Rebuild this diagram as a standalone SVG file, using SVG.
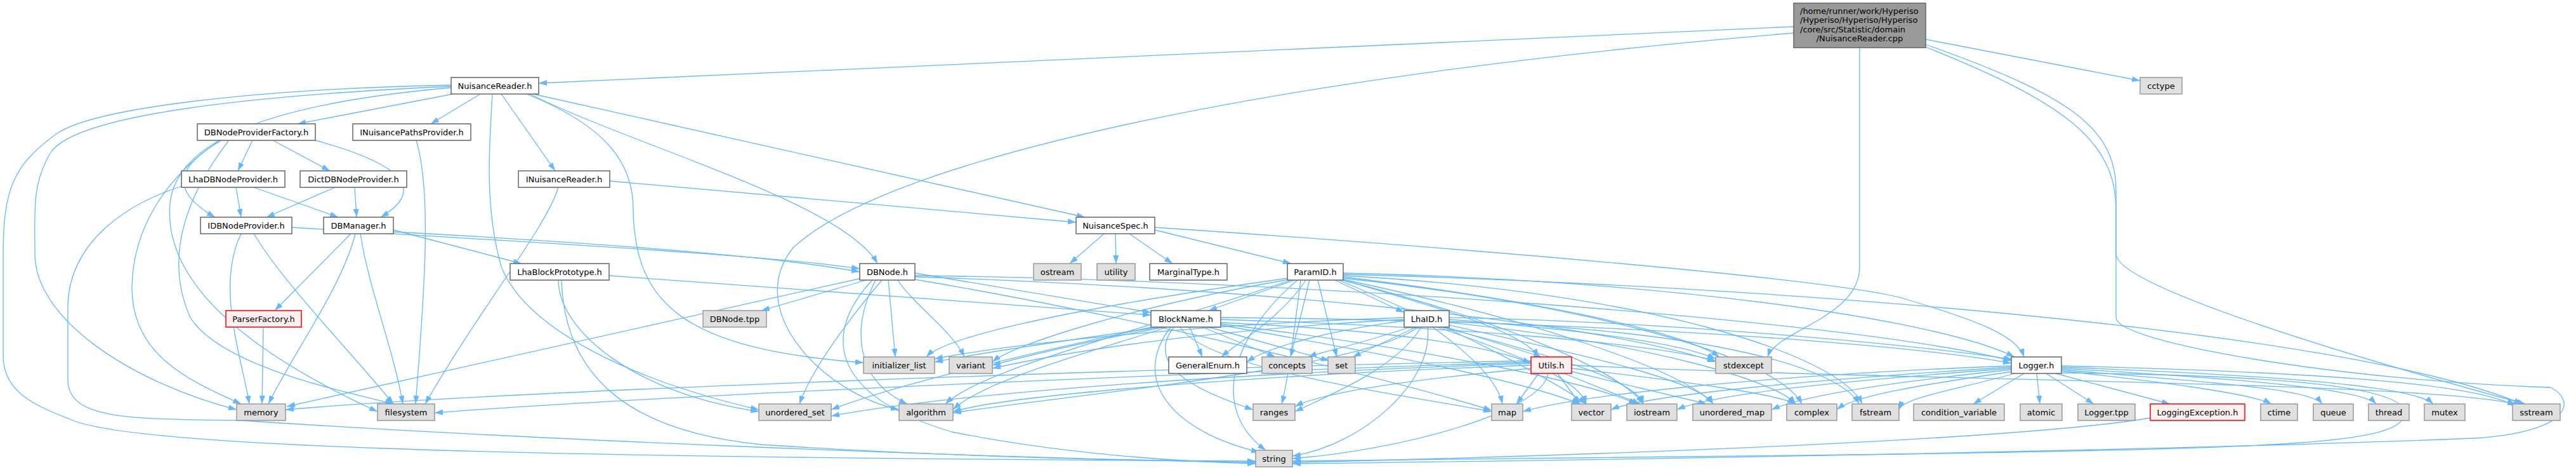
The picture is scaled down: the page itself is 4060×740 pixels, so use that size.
<svg xmlns="http://www.w3.org/2000/svg" width="4060" height="740" viewBox="0 0 4060 740">
<style>
.e{fill:none;stroke:#63B8FF;stroke-width:1.3;marker-end:url(#a)}
.w{fill:#FFFFFF;stroke:#666666;stroke-width:1.5}
.g{fill:#E0E0E0;stroke:#999999;stroke-width:1.5}
.r{fill:#FFF0F0;stroke:#FF0000;stroke-width:1.5}
.c{fill:#999999;stroke:#666666;stroke-width:1.5}
text{font-family:"DejaVu Sans","Liberation Sans",sans-serif;font-size:13px;fill:#000000;text-anchor:middle}
text.l{text-anchor:start}
</style>
<defs>
<marker id="a" viewBox="0 0 13 9" refX="13" refY="4.5" markerWidth="13" markerHeight="9" markerUnits="userSpaceOnUse" orient="auto"><path d="M0,0 L13,4.5 L0,9 z" fill="#63B8FF"/></marker>
</defs>
<rect width="4060" height="740" fill="#FFFFFF"/>
<g id="edges">
<path class="e" d="M2827,42 L849,131"/>
<path class="e" d="M3035,62 L3373,127"/>
<path class="e" d="M2931,75 L2931,420 C2931,500 2800,520 2786,562"/>
<path class="e" d="M3035,70 C3260,150 3335,200 3335,300 L3335,400 C3335,450 3700,560 3980,636"/>
<path class="e" d="M3035,74 C3250,160 3335,220 3335,330 L3335,500 C3335,540 3700,600 4020,610 C4060,630 4055,680 3900,690 C3400,710 2500,725 2037,730"/>
<path class="e" d="M2827,52 C2000,120 1400,250 1250,390 C1170,490 1300,620 1417,645"/>
<path class="e" d="M714,148 L469,195"/>
<path class="e" d="M757,148 L679,195"/>
<path class="e" d="M790,148 L875,269"/>
<path class="e" d="M840,148 L1710,342"/>
<path class="e" d="M835,148 C1000,230 1330,320 1383,415"/>
<path class="e" d="M830,148 C960,200 998,260 998,330 C1000,480 1080,550 1361,571"/>
<path class="e" d="M711,136 C400,150 120,180 80,240 C50,290 55,330 55,400 C55,500 200,600 373,645"/>
<path class="e" d="M711,134 C400,140 150,170 90,210 C20,260 5,300 5,400 L5,560 C5,620 60,640 110,660 C200,700 700,720 1979,726"/>
<path class="e" d="M711,138 C460,160 280,210 268,320 C258,430 360,540 595,648"/>
<path class="e" d="M776,148 C770,250 765,330 790,420 C830,520 1000,600 1196,645"/>
<path class="e" d="M398,221 L375,269"/>
<path class="e" d="M430,221 L520,269"/>
<path class="e" d="M348,222 C280,260 265,300 339,342"/>
<path class="e" d="M497,221 C640,260 670,300 600,342"/>
<path class="e" d="M345,222 C260,280 210,360 208,450 C206,560 300,600 380,636"/>
<path class="e" d="M360,222 C300,300 255,400 300,500 C350,580 560,620 620,636"/>
<path class="e" d="M656,221 C680,300 670,450 655,636"/>
<path class="e" d="M372,295 L380,342"/>
<path class="e" d="M400,295 L533,342"/>
<path class="e" d="M290,292 C200,320 110,380 107,480 L107,600 C110,660 200,660 380,662 C800,690 1500,720 1979,728"/>
<path class="e" d="M528,295 L420,342"/>
<path class="e" d="M559,295 L562,342"/>
<path class="e" d="M961,285 L1696,350"/>
<path class="e" d="M880,295 C860,360 760,480 670,636"/>
<path class="e" d="M460,358 C800,380 1200,400 1355,423"/>
<path class="e" d="M380,368 C340,450 380,560 393,636"/>
<path class="e" d="M400,368 C450,450 550,550 620,636"/>
<path class="e" d="M620,362 L822,415"/>
<path class="e" d="M553,368 L433,489"/>
<path class="e" d="M620,365 C900,380 1200,400 1355,428"/>
<path class="e" d="M560,368 C540,450 460,560 423,636"/>
<path class="e" d="M568,368 C580,450 620,550 635,636"/>
<path class="e" d="M960,434 L1814,496"/>
<path class="e" d="M880,441 C880,520 1000,620 1196,648"/>
<path class="e" d="M885,441 C890,600 1000,680 1200,700 C1500,720 1800,725 1979,728"/>
<path class="e" d="M415,515 L413,636"/>
<path class="e" d="M1365,441 L1200,489"/>
<path class="e" d="M1442,430 L1814,492"/>
<path class="e" d="M1358,438 L452,640"/>
<path class="e" d="M1400,441 L1411,562"/>
<path class="e" d="M1415,441 C1440,480 1500,520 1520,562"/>
<path class="e" d="M1390,441 C1340,500 1280,580 1260,636"/>
<path class="e" d="M1375,441 C1300,520 1300,620 1500,680 C1700,720 1900,728 1979,730"/>
<path class="e" d="M1380,441 C1340,520 1350,600 1430,636"/>
<path class="e" d="M1442,436 C1900,450 2500,500 2704,570"/>
<path class="e" d="M1442,434 C2000,440 2900,500 3170,568"/>
<path class="e" d="M1442,440 C1800,500 2200,600 2351,646"/>
<path class="e" d="M1740,368 L1686,415"/>
<path class="e" d="M1758,368 L1759,415"/>
<path class="e" d="M1780,368 L1848,415"/>
<path class="e" d="M1820,362 L2035,415"/>
<path class="e" d="M1820,358 C2300,390 2900,440 3000,470 C3120,505 3180,530 3190,562"/>
<path class="e" d="M2040,441 L1905,489"/>
<path class="e" d="M2104,441 L2213,492"/>
<path class="e" d="M2058,441 C2020,500 1950,540 1925,562"/>
<path class="e" d="M2064,441 L2034,562"/>
<path class="e" d="M2077,441 L2107,562"/>
<path class="e" d="M2117,441 C2250,480 2400,520 2425,562"/>
<path class="e" d="M2117,436 C2400,470 2650,520 2710,562"/>
<path class="e" d="M2117,430 C2600,440 3050,500 3175,562"/>
<path class="e" d="M2030,438 C1800,470 1500,520 1460,562"/>
<path class="e" d="M2032,440 C1800,480 1600,540 1564,570"/>
<path class="e" d="M2035,441 C1800,520 1550,580 1490,636"/>
<path class="e" d="M2050,441 C2040,520 2030,600 2020,636"/>
<path class="e" d="M2045,441 C1950,520 1900,640 1995,709"/>
<path class="e" d="M2110,441 C2300,520 2450,600 2500,636"/>
<path class="e" d="M2115,441 C2350,500 2550,580 2590,636"/>
<path class="e" d="M2117,440 C2400,500 2650,580 2700,636"/>
<path class="e" d="M2117,438 C2500,480 2800,560 2840,636"/>
<path class="e" d="M2117,434 C2600,460 2900,560 2935,636"/>
<path class="e" d="M2117,432 C2800,450 3700,520 3975,636"/>
<path class="e" d="M1875,515 L1895,562"/>
<path class="e" d="M1895,515 L2010,562"/>
<path class="e" d="M1905,515 L2095,568"/>
<path class="e" d="M1924,508 C2200,520 2350,545 2413,572"/>
<path class="e" d="M1924,503 C2300,515 2600,540 2704,568"/>
<path class="e" d="M1924,500 C2500,505 3000,540 3170,572"/>
<path class="e" d="M1830,515 C1650,540 1550,555 1473,570"/>
<path class="e" d="M1835,515 C1700,540 1620,560 1564,575"/>
<path class="e" d="M1840,515 C1700,560 1550,600 1502,645"/>
<path class="e" d="M1850,515 C1800,580 1900,620 1975,645"/>
<path class="e" d="M1845,515 C1780,600 1850,680 1985,712"/>
<path class="e" d="M1860,515 C1900,580 2200,620 2351,648"/>
<path class="e" d="M1924,512 C2200,560 2400,600 2490,636"/>
<path class="e" d="M1924,510 C2250,550 2500,600 2580,636"/>
<path class="e" d="M1830,512 C1600,560 1400,610 1310,645"/>
<path class="e" d="M2213,505 C2100,520 2000,545 1965,570"/>
<path class="e" d="M2222,515 C2150,540 2080,555 2062,562"/>
<path class="e" d="M2232,515 L2132,562"/>
<path class="e" d="M2279,515 L2430,562"/>
<path class="e" d="M2284,503 C2500,520 2650,540 2704,565"/>
<path class="e" d="M2284,500 C2600,505 3000,540 3172,566"/>
<path class="e" d="M2213,500 C1900,510 1600,540 1473,565"/>
<path class="e" d="M2213,503 C1900,520 1700,550 1564,580"/>
<path class="e" d="M2235,515 C2150,580 1700,620 1502,650"/>
<path class="e" d="M2240,515 C2200,580 2100,620 2041,648"/>
<path class="e" d="M2250,515 C2260,600 2150,700 2037,718"/>
<path class="e" d="M2258,515 C2320,560 2360,600 2368,636"/>
<path class="e" d="M2265,515 C2400,560 2490,600 2500,636"/>
<path class="e" d="M2272,515 C2450,560 2580,600 2590,636"/>
<path class="e" d="M2284,512 C2500,560 2680,600 2700,636"/>
<path class="e" d="M2284,508 C2600,540 2800,600 2830,636"/>
<path class="e" d="M2284,506 C2700,520 2900,580 2930,636"/>
<path class="e" d="M2425,588 L2390,636"/>
<path class="e" d="M2455,588 L2490,636"/>
<path class="e" d="M2465,588 L2585,636"/>
<path class="e" d="M2477,585 L2690,636"/>
<path class="e" d="M2440,588 C2430,650 2200,710 2037,722"/>
<path class="e" d="M2413,575 C2000,590 1600,620 1502,648"/>
<path class="e" d="M2413,572 C1900,590 1500,620 1310,655"/>
<path class="e" d="M2413,570 C1800,590 1000,625 685,650"/>
<path class="e" d="M2413,568 C1800,580 800,615 450,645"/>
<path class="e" d="M2413,580 C2200,600 2080,620 2041,640"/>
<path class="e" d="M2477,580 C2650,600 2800,620 2830,636"/>
<path class="e" d="M2477,575 C3000,600 3800,600 3965,636"/>
<path class="e" d="M3190,588 L3110,636"/>
<path class="e" d="M3210,588 L3215,636"/>
<path class="e" d="M3225,588 L3300,636"/>
<path class="e" d="M3240,588 L3420,636"/>
<path class="e" d="M3249,584 C3400,600 3550,620 3580,636"/>
<path class="e" d="M3249,582 C3450,600 3640,610 3660,636"/>
<path class="e" d="M3249,580 C3500,595 3720,610 3745,636"/>
<path class="e" d="M3249,578 C3550,590 3800,605 3835,636"/>
<path class="e" d="M3249,576 C3600,585 3900,600 3965,640"/>
<path class="e" d="M3175,588 C3100,610 3000,625 2993,645"/>
<path class="e" d="M3172,585 C3000,610 2920,625 2895,645"/>
<path class="e" d="M3170,582 C3000,600 2850,620 2792,645"/>
<path class="e" d="M3170,580 C2900,600 2700,620 2643,645"/>
<path class="e" d="M3170,578 C2900,595 2600,620 2539,645"/>
<path class="e" d="M3170,576 C2800,590 2500,620 2400,648"/>
<path class="e" d="M3249,587 C3500,590 3790,600 3790,650 C3790,700 3600,705 3000,715 C2500,722 2200,725 2037,726"/>
<path class="e" d="M3389,658 C3200,690 2600,715 2037,728"/>
</g>
<g id="n_cpp"><rect class="c" x="2827" y="5" width="208" height="70"/><text class="l" x="2837" y="21.5">/home/runner/work/Hyperiso</text><text class="l" x="2837" y="36">/Hyperiso/Hyperiso/Hyperiso</text><text class="l" x="2837" y="50.5">/core/src/Statistic/domain</text><text x="2931" y="65">/NuisanceReader.cpp</text></g>
<g id="n_NuisanceReader_h"><rect class="w" x="711" y="122" width="138" height="26"/><text x="780" y="139.5">NuisanceReader.h</text></g>
<g id="n_cctype"><rect class="g" x="3373" y="122" width="66" height="26"/><text x="3406" y="139.5">cctype</text></g>
<g id="n_DBNodeProviderFactory_h"><rect class="w" x="311" y="195" width="186" height="26"/><text x="404" y="212.5">DBNodeProviderFactory.h</text></g>
<g id="n_INuisancePathsProvider_h"><rect class="w" x="556" y="195" width="186" height="26"/><text x="649" y="212.5">INuisancePathsProvider.h</text></g>
<g id="n_LhaDBNodeProvider_h"><rect class="w" x="286" y="269" width="163" height="26"/><text x="367.5" y="286.5">LhaDBNodeProvider.h</text></g>
<g id="n_DictDBNodeProvider_h"><rect class="w" x="473" y="269" width="168" height="26"/><text x="557" y="286.5">DictDBNodeProvider.h</text></g>
<g id="n_INuisanceReader_h"><rect class="w" x="817" y="269" width="144" height="26"/><text x="889" y="286.5">INuisanceReader.h</text></g>
<g id="n_IDBNodeProvider_h"><rect class="w" x="316" y="342" width="144" height="26"/><text x="388" y="359.5">IDBNodeProvider.h</text></g>
<g id="n_DBManager_h"><rect class="w" x="510" y="342" width="110" height="26"/><text x="565" y="359.5">DBManager.h</text></g>
<g id="n_NuisanceSpec_h"><rect class="w" x="1696" y="342" width="124" height="26"/><text x="1758" y="359.5">NuisanceSpec.h</text></g>
<g id="n_LhaBlockPrototype_h"><rect class="w" x="804" y="415" width="156" height="26"/><text x="882" y="432.5">LhaBlockPrototype.h</text></g>
<g id="n_DBNode_h"><rect class="w" x="1355" y="415" width="87" height="26"/><text x="1398.5" y="432.5">DBNode.h</text></g>
<g id="n_ostream"><rect class="g" x="1629" y="415" width="75" height="26"/><text x="1666.5" y="432.5">ostream</text></g>
<g id="n_utility"><rect class="g" x="1729" y="415" width="60" height="26"/><text x="1759" y="432.5">utility</text></g>
<g id="n_MarginalType_h"><rect class="w" x="1812" y="415" width="122" height="26"/><text x="1873" y="432.5">MarginalType.h</text></g>
<g id="n_ParamID_h"><rect class="w" x="2029" y="415" width="88" height="26"/><text x="2073" y="432.5">ParamID.h</text></g>
<g id="n_ParserFactory_h"><rect class="r" x="356" y="489" width="119" height="26"/><text x="415.5" y="506.5">ParserFactory.h</text></g>
<g id="n_DBNode_tpp"><rect class="g" x="1108" y="489" width="100" height="26"/><text x="1158" y="506.5">DBNode.tpp</text></g>
<g id="n_BlockName_h"><rect class="w" x="1814" y="489" width="110" height="26"/><text x="1869" y="506.5">BlockName.h</text></g>
<g id="n_LhaID_h"><rect class="w" x="2213" y="489" width="71" height="26"/><text x="2248.5" y="506.5">LhaID.h</text></g>
<g id="n_initializer_list"><rect class="g" x="1361" y="562" width="112" height="26"/><text x="1417" y="579.5">initializer_list</text></g>
<g id="n_variant"><rect class="g" x="1496" y="562" width="68" height="26"/><text x="1530" y="579.5">variant</text></g>
<g id="n_GeneralEnum_h"><rect class="w" x="1842" y="562" width="123" height="26"/><text x="1903.5" y="579.5">GeneralEnum.h</text></g>
<g id="n_concepts"><rect class="g" x="1989" y="562" width="79" height="26"/><text x="2028.5" y="579.5">concepts</text></g>
<g id="n_set"><rect class="g" x="2093" y="562" width="43" height="26"/><text x="2114.5" y="579.5">set</text></g>
<g id="n_Utils_h"><rect class="r" x="2413" y="562" width="64" height="26"/><text x="2445" y="579.5">Utils.h</text></g>
<g id="n_stdexcept"><rect class="g" x="2704" y="562" width="88" height="26"/><text x="2748" y="579.5">stdexcept</text></g>
<g id="n_Logger_h"><rect class="w" x="3170" y="562" width="79" height="26"/><text x="3209.5" y="579.5">Logger.h</text></g>
<g id="n_memory"><rect class="g" x="373" y="636" width="77" height="26"/><text x="411.5" y="653.5">memory</text></g>
<g id="n_filesystem"><rect class="g" x="595" y="636" width="90" height="26"/><text x="640" y="653.5">filesystem</text></g>
<g id="n_unordered_set"><rect class="g" x="1196" y="636" width="114" height="26"/><text x="1253" y="653.5">unordered_set</text></g>
<g id="n_algorithm"><rect class="g" x="1417" y="636" width="85" height="26"/><text x="1459.5" y="653.5">algorithm</text></g>
<g id="n_ranges"><rect class="g" x="1975" y="636" width="66" height="26"/><text x="2008" y="653.5">ranges</text></g>
<g id="n_map"><rect class="g" x="2351" y="636" width="49" height="26"/><text x="2375.5" y="653.5">map</text></g>
<g id="n_vector"><rect class="g" x="2477" y="636" width="62" height="26"/><text x="2508" y="653.5">vector</text></g>
<g id="n_iostream"><rect class="g" x="2564" y="636" width="79" height="26"/><text x="2603.5" y="653.5">iostream</text></g>
<g id="n_unordered_map"><rect class="g" x="2668" y="636" width="124" height="26"/><text x="2730" y="653.5">unordered_map</text></g>
<g id="n_complex"><rect class="g" x="2816" y="636" width="79" height="26"/><text x="2855.5" y="653.5">complex</text></g>
<g id="n_fstream"><rect class="g" x="2919" y="636" width="74" height="26"/><text x="2956" y="653.5">fstream</text></g>
<g id="n_condition_variable"><rect class="g" x="3016" y="636" width="143" height="26"/><text x="3087.5" y="653.5">condition_variable</text></g>
<g id="n_atomic"><rect class="g" x="3184" y="636" width="66" height="26"/><text x="3217" y="653.5">atomic</text></g>
<g id="n_Logger_tpp"><rect class="g" x="3275" y="636" width="90" height="26"/><text x="3320" y="653.5">Logger.tpp</text></g>
<g id="n_LoggingException_h"><rect class="r" x="3389" y="636" width="149" height="26"/><text x="3463.5" y="653.5">LoggingException.h</text></g>
<g id="n_ctime"><rect class="g" x="3563" y="636" width="58" height="26"/><text x="3592" y="653.5">ctime</text></g>
<g id="n_queue"><rect class="g" x="3646" y="636" width="63" height="26"/><text x="3677.5" y="653.5">queue</text></g>
<g id="n_thread"><rect class="g" x="3733" y="636" width="64" height="26"/><text x="3765" y="653.5">thread</text></g>
<g id="n_mutex"><rect class="g" x="3821" y="636" width="64" height="26"/><text x="3853" y="653.5">mutex</text></g>
<g id="n_sstream"><rect class="g" x="3960" y="636" width="75" height="26"/><text x="3997.5" y="653.5">sstream</text></g>
<g id="n_string"><rect class="g" x="1979" y="709" width="58" height="26"/><text x="2008" y="726.5">string</text></g>
</svg>
